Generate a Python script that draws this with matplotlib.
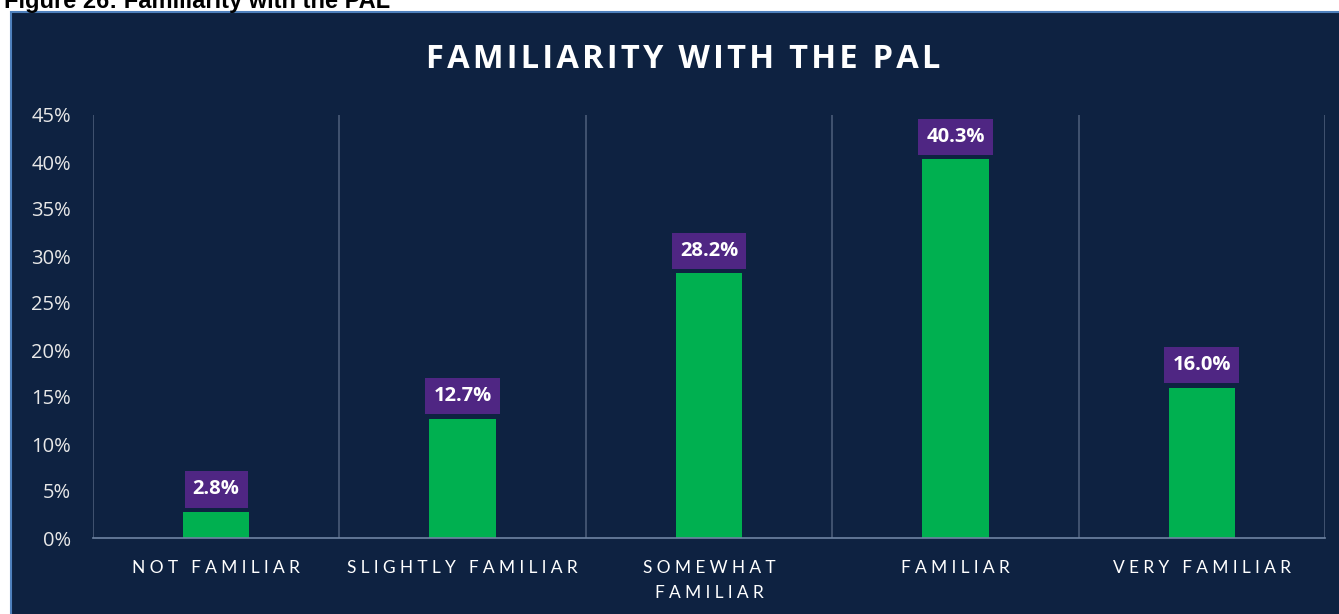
import matplotlib
matplotlib.use('Agg')
import matplotlib.pyplot as plt
from matplotlib.patches import Rectangle
from matplotlib.ticker import PercentFormatter

categories = ['NOT FAMILIAR', 'SLIGHTLY FAMILIAR', 'SOMEWHAT\nFAMILIAR', 'FAMILIAR', 'VERY FAMILIAR']
values = [2.8, 12.7, 28.2, 40.3, 16.0]
yticks = [0, 5, 10, 15, 20, 25, 30, 35, 40, 45]

bg = '#0E2241'
green = '#00B050'
purple = '#4F2683'
plt.rcParams['font.family'] = ['Open Sans', 'DejaVu Sans']


def spaced(s, gap=' ', wgap='   '):
    # fake letter spacing
    lines = []
    for line in s.split('\n'):
        lines.append(wgap.join(gap.join(w) for w in line.split(' ')))
    return '\n'.join(lines)


fig = plt.figure(figsize=(13.39, 6.14), dpi=100)
fig.patch.set_facecolor('white')

# dark panel with blue border
fig.patches.append(Rectangle((11 / 1339, -0.01), 1.0, 0.9805 + 0.01, transform=fig.transFigure,
                             facecolor=bg, edgecolor='#4F81BD', linewidth=1.5, zorder=-5))

fig.text(0.003, 0.997, 'Figure 26: Familiarity with the PAL', fontsize=17, fontweight='bold',
         family=['Liberation Sans', 'DejaVu Sans'], color='black', ha='left', va='center')

ax = fig.add_axes([93 / 1339, 1 - 538 / 614, (1325 - 93) / 1339, (538 - 115) / 614])
ax.set_facecolor(bg)
x = list(range(len(categories)))
ax.bar(x, values, width=0.27, color=green, zorder=2)

for xi, v in zip(x, values):
    ax.annotate('%.1f%%' % v, (xi, v), xytext=(0, 16), textcoords='offset points',
                ha='center', va='center', color='white', fontsize=14.5, fontweight='bold',
                bbox=dict(boxstyle='square,pad=0.4', facecolor=purple, edgecolor='none'))

ax.set_xlim(-0.5, 4.5)
ax.set_ylim(0, 45)
ax.set_yticks(yticks)
ax.yaxis.set_major_formatter(PercentFormatter(decimals=0))
ax.set_xticks(x)
ax.set_xticklabels([spaced(c, '\u2009\u2009', '\u2009\u2009 \u2009\u2009') for c in categories],
                   linespacing=1.7, family=['Lato', 'DejaVu Sans'])
ax.tick_params(axis='x', length=0, pad=16, labelsize=12.5, colors='white')
ax.tick_params(axis='y', length=0, pad=16, labelsize=14.5, colors='#E8E8E8')
for b in [-0.5, 0.5, 1.5, 2.5, 3.5, 4.5]:
    ax.axvline(b, color='#4A5B78', linewidth=1.2, zorder=1)
for s in ['top', 'right', 'left']:
    ax.spines[s].set_visible(False)
ax.spines['bottom'].set_color('#6F84A3')
ax.spines['bottom'].set_linewidth(1.2)

fig.text(683 / 1339, 1 - 60 / 614, spaced('FAMILIARITY WITH THE PAL', '\u200a', ' \u2009'), color='white',
         fontsize=23.5, fontweight='bold', ha='center', va='center')

fig.savefig('out.png', dpi=100, facecolor=fig.get_facecolor())
